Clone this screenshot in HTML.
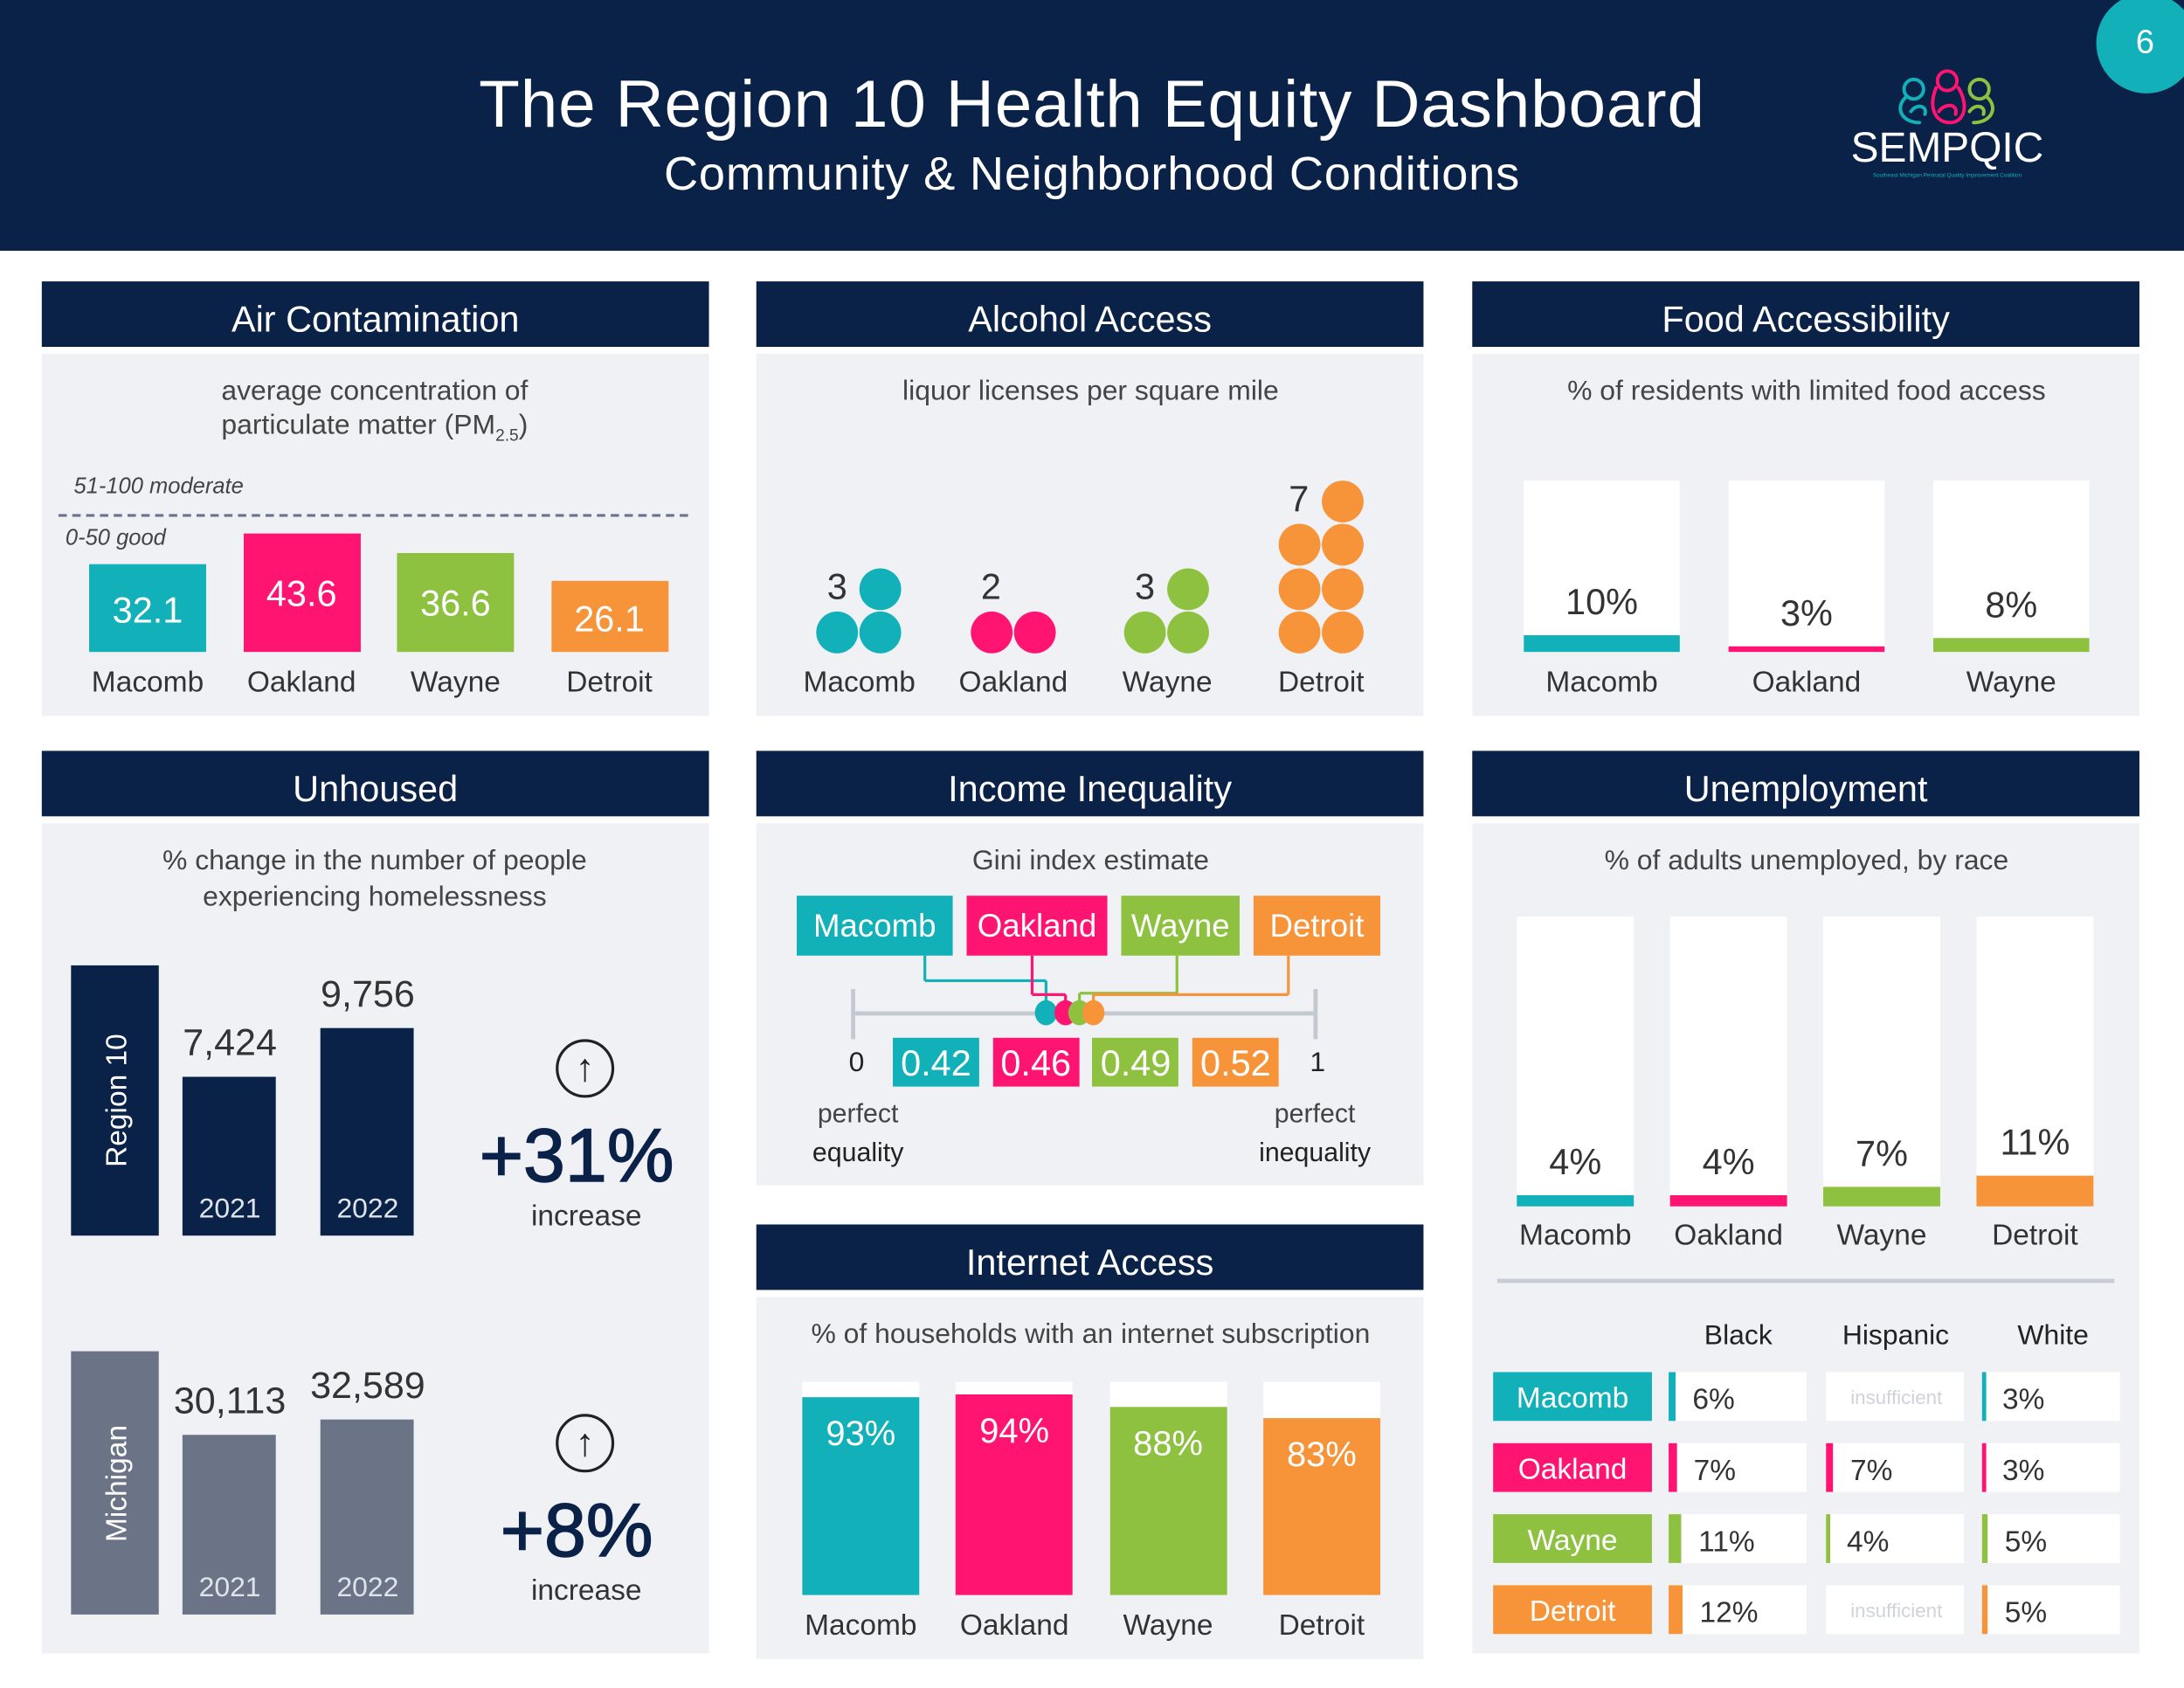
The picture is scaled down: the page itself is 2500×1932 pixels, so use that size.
<!DOCTYPE html>
<html><head><meta charset="utf-8">
<style>
html,body{margin:0;padding:0;background:#fff;}
body{width:2500px;height:1932px;overflow:hidden;position:relative;font-family:"Liberation Sans",sans-serif;}
#stage{position:absolute;left:0;top:0;width:1568px;height:1212px;transform:scale(1.594388);transform-origin:0 0;background:#fff;}
.abs{position:absolute;}
.hdr{position:absolute;background:#0a2148;color:#fff;font-size:26px;text-align:center;line-height:54px;height:47px;overflow:hidden;}
.pnl{position:absolute;background:#eff1f5;}
.t{position:absolute;transform:translate(-50%,-50%);white-space:nowrap;line-height:1;}
</style></head>
<body>
<div id="stage">
  <div class="abs" style="left:0;top:0;width:1568px;height:180px;background:#0a2148"></div>
  <div class="t" style="left:784px;top:76px;font-size:48px;letter-spacing:0.5px;color:#fff">The Region 10 Health Equity Dashboard</div>
  <div class="t" style="left:784px;top:125px;font-size:34px;letter-spacing:0.5px;color:#fff">Community &amp; Neighborhood Conditions</div>
  <div class="abs" style="left:1505px;top:-5px;width:72px;height:72px;border-radius:50%;background:#12b0b9"></div>
  <div class="t" style="left:1540px;top:31px;font-size:24px;color:#fff">6</div>
  <svg class="abs" style="left:1360px;top:48px" width="75" height="44">
    <g fill="none" stroke-width="2.5" stroke-linecap="round">
      <circle cx="14" cy="16" r="7" stroke="#12b0b9"/><path d="M8 22 C0 30 6 40 18 40 M12 32 C16 26 24 28 22 34" stroke="#12b0b9"/>
      <circle cx="38" cy="10" r="7" stroke="#ff1472"/><path d="M30 15 C24 30 30 40 40 40 C50 40 54 28 46 15 M32 32 C36 26 46 26 44 34" stroke="#ff1472"/>
      <circle cx="61" cy="16" r="7" stroke="#8dc13f"/><path d="M67 22 C75 30 69 40 57 40 M54 32 C58 26 66 28 64 34" stroke="#8dc13f"/>
    </g></svg>
  <div class="t" style="left:1398px;top:107px;font-size:30px;color:#fff">SEMPQIC</div>
  <div class="t" style="left:1398px;top:126px;font-size:4px;color:#12b0b9">Southeast Michigan Perinatal Quality Improvement Coalition</div>

  <div class="hdr" style="left:30px;top:202px;width:479px">Air Contamination</div>
  <div class="pnl" style="left:30px;top:254px;width:479px;height:260px"></div>
  <div class="hdr" style="left:543px;top:202px;width:479px">Alcohol Access</div>
  <div class="pnl" style="left:543px;top:254px;width:479px;height:260px"></div>
  <div class="hdr" style="left:1057px;top:202px;width:479px">Food Accessibility</div>
  <div class="pnl" style="left:1057px;top:254px;width:479px;height:260px"></div>
  <div class="hdr" style="left:30px;top:539px;width:479px">Unhoused</div>
  <div class="pnl" style="left:30px;top:591px;width:479px;height:596px"></div>
  <div class="hdr" style="left:543px;top:539px;width:479px">Income Inequality</div>
  <div class="pnl" style="left:543px;top:591px;width:479px;height:260px"></div>
  <div class="hdr" style="left:543px;top:879px;width:479px">Internet Access</div>
  <div class="pnl" style="left:543px;top:931px;width:479px;height:260px"></div>
  <div class="hdr" style="left:1057px;top:539px;width:479px">Unemployment</div>
  <div class="pnl" style="left:1057px;top:591px;width:479px;height:596px"></div>

  <div class="t" style="left:269px;top:281px;font-size:20px;color:#444">average concentration of</div>
  <div class="t" style="left:269px;top:307px;font-size:20px;color:#444">particulate matter (PM<sub style="font-size:12px">2.5</sub>)</div>
  <div class="abs" style="left:53px;top:341px;font-size:16px;font-style:italic;color:#444">51-100 moderate</div>
  <div class="abs" style="left:42px;top:369px;width:452px;border-top:2px dashed #6b7486"></div>
  <div class="abs" style="left:47px;top:378px;font-size:16px;font-style:italic;color:#444">0-50 good</div>
  <div class="t" style="left:783px;top:281px;font-size:20px;color:#444">liquor licenses per square mile</div>
  <div class="t" style="left:1297px;top:281px;font-size:20px;color:#444">% of residents with limited food access</div>
  <div class="t" style="left:269px;top:618px;font-size:20px;color:#444">% change in the number of people</div>
  <div class="t" style="left:269px;top:644px;font-size:20px;color:#444">experiencing homelessness</div>
  <div class="t" style="left:783px;top:618px;font-size:20px;color:#444">Gini index estimate</div>
  <div class="t" style="left:783px;top:958px;font-size:20px;color:#444">% of households with an internet subscription</div>
  <div class="t" style="left:1297px;top:618px;font-size:20px;color:#444">% of adults unemployed, by race</div>
  <div class="abs" style="left:1075px;top:918px;width:443px;height:3px;background:#c8ccd4"></div>
  <div id="layer" class="abs" style="left:0;top:0;width:1568px;height:1212px"></div>
</div>
<script>
const counties = ["Macomb","Oakland","Wayne","Detroit"];
const colors = ["#12b0b9","#ff1472","#8dc13f","#f7943a"];
const airValues = [32.1,43.6,36.6,26.1];
const alcoholCounts = [3,2,3,7];
const foodCounties = ["Macomb","Oakland","Wayne"];
const foodValues = [10,3,8];
const unhousedYears = ["2021","2022"];
const region10Values = [7424,9756];
const region10Labels = ["7,424","9,756"];
const michiganValues = [30113,32589];
const michiganLabels = ["30,113","32,589"];
const giniValues = [0.42,0.46,0.49,0.52];
const giniLabels = ["0.42","0.46","0.49","0.52"];
const internetValues = [93,94,88,83];
const unempValues = [4,4,7,11];
const raceHeaders = ["Black","Hispanic","White"];
const unempBlack = [6,7,11,12];
const unempHispanic = [null,7,4,null];
const unempWhite = [3,3,5,5];

const L = document.getElementById('layer');
function box(css){const e=document.createElement('div');e.style.cssText='position:absolute;'+css;L.appendChild(e);return e;}
function txt(x,y,s,c,content,extra){const e=document.createElement('div');e.className='t';e.style.cssText='left:'+x+'px;top:'+y+'px;font-size:'+s+'px;color:'+c+';'+(extra||'');e.textContent=content;L.appendChild(e);return e;}

const airBase=468, airScale=1.95;
airValues.forEach((v,i)=>{
  const x=64+i*110.5, h=v*airScale;
  const b=box('left:'+x+'px;top:'+(airBase-h)+'px;width:84px;height:'+h+'px;background:'+colors[i]);
  
  
  const l=txt(x+42,airBase-h+h/2+1,26,'#fff',v.toFixed(1));
  
  
  const c=txt(x+42,490,21,'#333',counties[i]);
  
  
});

alcoholCounts.forEach((n,i)=>{
  const x0=601+i*110.5;
  for(let k=0;k<n;k++){
    const row=Math.floor(k/2); let col=k%2;
    if(k===n-1 && n%2===1) col=1;
    const d=box('left:'+(x0+col*31-15)+'px;top:'+(454-row*31.5-15)+'px;width:30px;height:30px;border-radius:50%;background:'+colors[i]);
    
    
  }
  const r=Math.floor(n/2);
  const nl=txt(x0,454-r*31.5-2,26,'#333',String(n));
  
  
  const c=txt(x0+16,490,21,'#333',counties[i]);
  
  
});

foodValues.forEach((v,i)=>{
  const x=1094+i*147;
  const w=box('left:'+x+'px;top:345px;width:112px;height:123px;background:#fff');
  
  
  const h=v*1.2;
  const s=box('left:'+x+'px;top:'+(468-h)+'px;width:112px;height:'+h+'px;background:'+colors[i]);
  
  
  const l=txt(x+56,468-h-24,26,'#333',v+'%');
  
  
  const c=txt(x+56,490,21,'#333',foodCounties[i]);
  
  
});

function unhoused(vals,labels,base,scale,col,blockTop,name,pct,arrowY){
  const blk=box('left:51px;top:'+blockTop+'px;width:63px;height:'+(base-blockTop)+'px;background:'+col);
  
  
  const bl=txt(84,(blockTop+base)/2,21,'#fff',name==='region10'?'Region 10':'Michigan','transform:translate(-50%,-50%) rotate(-90deg)');
  
  
  vals.forEach((v,i)=>{
    const x=131+i*99, h=v*scale;
    const b=box('left:'+x+'px;top:'+(base-h)+'px;width:67px;height:'+h+'px;background:'+col);
    
    
    const y=txt(x+34,base-19,20,'#dfe3ea',unhousedYears[i]);
    
    
    const l=txt(x+34,base-h-24,27,'#333',labels[i]);
    
    
  });
  const a=box('left:399px;top:'+(arrowY-21)+'px;width:38px;height:38px;border:2px solid #222;border-radius:50%');
  
  
  const at=txt(420,arrowY,28,'#222','↑');
  
  
  const p=txt(414,arrowY+63,54,'#0a2148',pct,'font-weight:normal;-webkit-text-stroke:1px #0a2148');
  
  
  const inc=txt(421,arrowY+106,21,'#333','increase');
  
  
}
unhoused(region10Values,region10Labels,887,0.0153,'#0a2148',693,'region10','+'+Math.round((region10Values[1]/region10Values[0]-1)*100)+'%',767);
unhoused(michiganValues,michiganLabels,1159,0.0043,'#6b7486',970,'michigan','+'+Math.round((michiganValues[1]/michiganValues[0]-1)*100)+'%',1036);

const gx0=612, gx1=944, axisY=727;
function gx(v){return gx0+(gx1-gx0)*v;}
const ax=box('left:'+gx0+'px;top:'+(axisY-1)+'px;width:'+(gx1-gx0)+'px;height:3px;background:#c4c9d1');


[gx0,gx1].forEach(x=>{const t=box('left:'+(x-1)+'px;top:710px;width:3px;height:36px;background:#c4c9d1');
  
  });
const boxLefts=[572,694,805,900], boxWidths=[112,101,85,91], connY=[704,714,713,714];
counties.forEach((c,i)=>{
  const b=box('left:'+boxLefts[i]+'px;top:643px;width:'+boxWidths[i]+'px;height:43px;background:'+colors[i]);
  
  
  const bt=txt(boxLefts[i]+boxWidths[i]/2,665,23,'#fff',c);
  
  
  const cx=boxLefts[i]+boxWidths[i]*(i===0?0.82:i===1?0.47:i===2?0.47:0.28);
  const dx=gx(giniValues[i]);
  const v1=box('left:'+(cx-1)+'px;top:686px;width:2px;height:'+(connY[i]-686)+'px;background:'+colors[i]);
  
  
  const hz=box('left:'+Math.min(cx,dx)+'px;top:'+(connY[i]-1)+'px;width:'+Math.abs(dx-cx)+'px;height:2px;background:'+colors[i]);
  
  
  const v2=box('left:'+(dx-1)+'px;top:'+connY[i]+'px;width:2px;height:'+(axisY-connY[i])+'px;background:'+colors[i]);
  
  
});
giniValues.forEach((v,i)=>{
  const d=box('left:'+(gx(v)-8)+'px;top:'+(axisY-9)+'px;width:16px;height:18px;border-radius:50%;background:'+colors[i]);
  
  
  const x=641+i*71.7;
  const vb=box('left:'+x+'px;top:745px;width:62px;height:35px;background:'+colors[i]);
  
  
  const vt=txt(x+31,763,26,'#fff',giniLabels[i]);
  
  
});
[["0",615,763,20,'#222'],["1",946,763,20,'#222'],["perfect",616,800,19,'#444'],["equality",616,828,19,'#222'],["perfect",944,800,19,'#444'],["inequality",944,828,19,'#222']].forEach(a=>{
  const e=txt(a[1],a[2],a[3],a[4],a[0]);
  
  
});

const iBase=1145, iH=153;
internetValues.forEach((v,i)=>{
  const x=576+i*110.3;
  const w=box('left:'+x+'px;top:'+(iBase-iH)+'px;width:84px;height:'+iH+'px;background:#fff');
  
  
  const h=v/100*iH;
  const b=box('left:'+x+'px;top:'+(iBase-h)+'px;width:84px;height:'+h+'px;background:'+colors[i]);
  
  
  const l=txt(x+42,iBase-h+27,25,'#fff',v+'%');
  
  
  const c=txt(x+42,1167,21,'#333',counties[i]);
  
  
});

unempValues.forEach((v,i)=>{
  const x=1089+i*110;
  const w=box('left:'+x+'px;top:658px;width:84px;height:208px;background:#fff');
  
  
  const h=v*2;
  const b=box('left:'+x+'px;top:'+(866-h)+'px;width:84px;height:'+h+'px;background:'+colors[i]);
  
  
  const l=txt(x+42,866-h-24,26,'#333',v+'%');
  
  
  const c=txt(x+42,887,21,'#333',counties[i]);
  
  
});
raceHeaders.forEach((r,j)=>{
  const h=txt(1248+j*113,959,20,'#222',r);
  
  
});
const raceCols=[unempBlack,unempHispanic,unempWhite];
counties.forEach((c,i)=>{
  const y=985+i*51;
  const cb=box('left:1072px;top:'+y+'px;width:114px;height:35px;background:'+colors[i]);
  
  
  const ct=txt(1129,y+19,21,'#fff',c);
  
  
  raceCols.forEach((col,j)=>{
    const x=1198+j*112.5, v=col[i];
    const cell=box('left:'+x+'px;top:'+y+'px;width:99px;height:35px;background:#fff');
    
    
    if(v===null){
      const it=txt(x+51,y+18,14,'#d0d3d9','insufficient');
      
      
    } else {
      const sw=Math.max(2,v*0.85);
      const s=box('left:'+x+'px;top:'+y+'px;width:'+sw+'px;height:35px;background:'+colors[i]);
      
      
      const vt=txt(x+sw+12,y+20,21,'#333',v+'%','transform:translate(0,-50%)');
      
      
    }
  });
});
</script>
</body></html>
